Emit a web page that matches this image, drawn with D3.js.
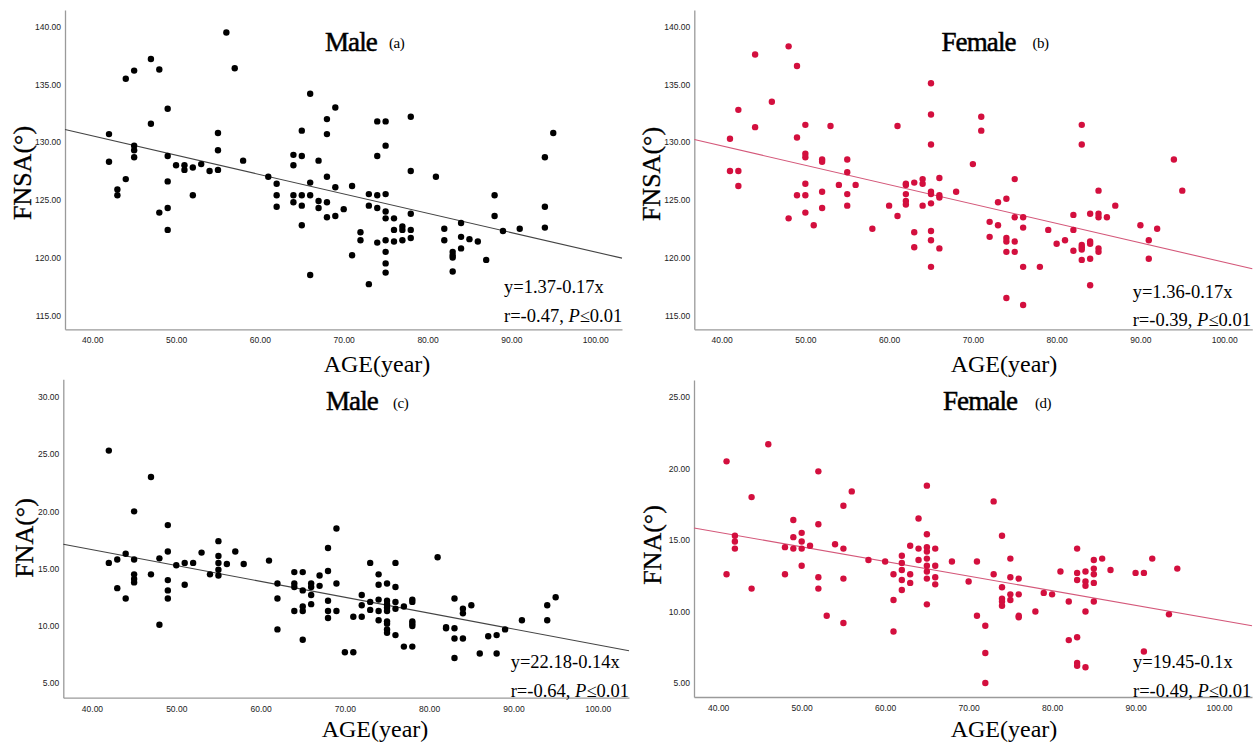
<!DOCTYPE html>
<html><head><meta charset="utf-8">
<script src="https://cdn.jsdelivr.net/npm/d3@7"></script>
<style>body{margin:0;background:#fff}svg{display:block}</style>
</head><body><svg id="chart" width="1260" height="745"></svg>
<script>
// ---- data: [age, value] ----
const maleFNSA = [[42,130.7],[42,128.3],[43,125.9],[43,125.4],[44,135.5],[44,126.8],[45,136.2],[45,129.7],[45,129.3],[45,128.7],[47,137.2],[47,131.6],[48,136.3],[48,123.9],[49,132.9],[49,128.8],[49,126.6],[49,124.3],[49,122.4],[50,128.0],[51,128.0],[51,127.6],[52,127.8],[52,125.4],[53,128.1],[54,127.5],[55,130.8],[55,129.3],[55,127.6],[56,139.5],[57,136.4],[58,128.4],[61,127.0],[62,126.4],[62,125.4],[62,124.4],[64,128.9],[64,128.0],[64,125.4],[64,124.8],[65,131.0],[65,128.8],[65,125.4],[65,124.5],[65,122.8],[66,134.2],[66,126.5],[66,125.4],[66,118.5],[67,128.4],[67,124.9],[67,124.3],[68,132.0],[68,130.7],[68,127.0],[68,124.8],[68,123.5],[69,133.0],[69,126.1],[69,123.6],[70,124.2],[71,126.2],[71,120.2],[72,122.2],[72,121.5],[73,125.5],[73,124.5],[73,117.7],[74,131.8],[74,128.8],[74,125.4],[74,124.3],[74,121.3],[75,131.8],[75,129.7],[75,125.5],[75,124.0],[75,123.4],[75,121.5],[75,120.5],[75,119.5],[75,118.7],[76,123.4],[76,122.4],[76,121.4],[77,122.7],[77,122.4],[77,121.5],[78,132.2],[78,127.5],[78,123.8],[78,122.4],[78,121.7],[81,127.0],[82,122.5],[82,121.5],[83,120.5],[83,120.2],[83,120.0],[83,118.8],[84,123.0],[84,121.8],[84,120.8],[85,121.6],[86,121.4],[87,119.8],[88,125.4],[88,123.6],[89,122.3],[91,122.5],[94,128.7],[94,124.4],[94,122.6],[95,130.8]];

const femaleFNSA = [[41,130.3],[41,127.5],[42,132.8],[42,127.5],[42,126.2],[44,137.6],[44,131.3],[46,133.5],[48,138.3],[48,123.4],[49,136.6],[49,130.4],[49,125.4],[50,131.5],[50,129.0],[50,128.7],[50,126.4],[50,125.4],[50,123.9],[51,122.8],[52,128.5],[52,128.3],[52,125.7],[52,124.3],[53,131.4],[54,126.3],[55,128.5],[55,127.4],[55,125.5],[55,124.5],[56,126.3],[58,122.5],[60,124.5],[61,131.4],[61,123.6],[62,126.4],[62,126.3],[62,125.5],[62,124.9],[62,124.6],[63,126.5],[63,122.2],[63,120.9],[64,126.8],[64,126.4],[64,124.5],[65,135.1],[65,132.4],[65,129.8],[65,125.7],[65,125.5],[65,124.7],[65,122.3],[65,121.5],[65,119.2],[66,126.9],[66,125.4],[66,125.2],[66,120.8],[68,125.7],[70,128.1],[71,132.2],[71,131.0],[72,123.1],[72,121.8],[73,124.8],[73,122.8],[74,125.1],[74,121.7],[74,121.4],[74,120.5],[74,116.5],[75,126.8],[75,123.5],[75,121.4],[75,120.5],[76,123.5],[76,122.6],[76,119.2],[76,115.9],[78,119.2],[79,122.4],[80,121.2],[81,121.5],[82,123.7],[82,122.4],[82,120.6],[83,131.5],[83,129.8],[83,121.1],[83,120.9],[83,120.7],[83,119.8],[84,123.8],[84,121.4],[84,121.2],[84,119.9],[84,117.6],[85,125.8],[85,123.8],[85,123.5],[85,120.8],[85,120.5],[86,123.5],[87,124.5],[90,122.8],[91,121.5],[91,119.9],[92,122.5],[94,128.5],[95,125.8]];

const maleFNA = [[42,25.3],[42,15.5],[43,15.8],[43,13.3],[44,16.3],[44,12.4],[45,20.0],[45,15.8],[45,14.5],[45,14.1],[45,13.8],[47,23.0],[47,14.5],[48,15.9],[48,10.1],[49,18.8],[49,16.5],[49,14.0],[49,13.1],[49,12.4],[50,15.3],[51,15.5],[51,13.6],[52,15.5],[53,16.4],[54,14.5],[55,17.4],[55,16.1],[55,15.5],[55,14.9],[55,14.4],[56,15.4],[57,16.5],[58,15.4],[61,15.7],[62,13.7],[62,12.4],[62,9.7],[64,14.7],[64,13.7],[64,13.4],[64,11.3],[65,14.7],[65,13.1],[65,11.7],[65,11.3],[65,8.8],[66,13.7],[66,13.4],[66,12.7],[66,11.9],[67,14.4],[67,13.5],[68,16.8],[68,14.8],[68,12.2],[68,11.3],[68,10.7],[69,18.5],[69,13.7],[69,11.3],[70,7.7],[71,10.8],[71,7.7],[72,12.7],[72,11.8],[72,10.8],[73,15.5],[73,12.1],[73,11.4],[74,14.5],[74,13.6],[74,12.3],[74,11.3],[74,10.5],[75,13.7],[75,12.2],[75,11.9],[75,11.6],[75,11.3],[75,10.4],[75,10.2],[75,9.7],[75,9.4],[76,15.5],[76,13.4],[76,12.1],[76,11.5],[76,9.2],[77,11.7],[77,8.2],[78,12.3],[78,12.1],[78,10.4],[78,10.2],[78,10.0],[78,8.2],[81,16.0],[82,9.9],[82,9.8],[83,12.4],[83,9.8],[83,8.9],[83,7.2],[84,11.5],[84,11.1],[84,8.9],[85,11.8],[86,7.6],[87,9.1],[88,9.2],[88,7.6],[89,9.7],[91,10.5],[94,11.8],[94,10.5],[95,12.5]];

const femaleFNA = [[41,20.5],[41,12.6],[42,15.3],[42,14.9],[42,14.4],[44,18.0],[44,11.6],[46,21.7],[48,14.5],[48,12.6],[49,16.4],[49,15.2],[49,14.4],[50,15.5],[50,14.9],[50,14.4],[50,13.2],[51,14.6],[52,19.8],[52,16.1],[52,12.4],[52,11.6],[53,9.7],[54,14.7],[55,17.4],[55,14.4],[55,12.3],[55,9.2],[56,18.4],[58,13.6],[60,13.5],[61,12.6],[61,10.8],[61,8.6],[62,13.9],[62,13.4],[62,12.9],[62,12.2],[62,11.5],[63,14.6],[63,12.6],[63,12.0],[64,16.5],[64,14.4],[64,13.6],[65,18.8],[65,15.4],[65,14.5],[65,14.2],[65,13.7],[65,13.2],[65,12.8],[65,12.3],[65,10.5],[66,14.4],[66,13.2],[66,12.4],[66,11.9],[68,13.5],[70,12.1],[71,13.5],[71,9.7],[72,9.0],[72,7.1],[72,5.0],[73,17.7],[73,12.6],[74,15.3],[74,11.7],[74,10.9],[74,10.7],[74,10.4],[75,13.7],[75,12.4],[75,11.2],[75,10.8],[76,12.3],[76,11.2],[76,9.7],[76,9.6],[78,10.0],[79,11.3],[80,11.2],[81,12.8],[82,10.7],[82,8.0],[83,14.4],[83,12.7],[83,12.2],[83,8.2],[83,6.4],[83,6.2],[84,12.8],[84,12.1],[84,11.8],[84,10.0],[84,6.1],[85,13.6],[85,13.0],[85,12.6],[85,12.0],[85,10.7],[86,13.7],[87,12.9],[90,12.7],[91,12.7],[91,7.2],[92,13.7],[94,9.8],[95,13.0]];

// fitted lines [intercept, slope] as drawn
const fitLines = [[137.25,-0.1676],[136.4,-0.168],[22.2,-0.1385],[19.64,-0.1023]];
const xTicks = [40,50,60,70,80,90,100];
const yTicksFNSA = [115,120,125,130,135,140];
const yTicksFNAMale = [5,10,15,20,25,30];
const yTicksFNAFemale = [5,10,15,20,25];
const titles = ["Male","Female","Male","Female"];
const tags = ["(a)","(b)","(c)","(d)"];
const yTitles = ["FNSA(°)","FNSA(°)","FNA(°)","FNA(°)"];
const xTitle = "AGE(year)";
const eqTexts = ["y=1.37-0.17x","y=1.36-0.17x","y=22.18-0.14x","y=19.45-0.1x"];
const rTexts = ["r=-0.47, ","r=-0.39, ","r=-0.64, ","r=-0.49, "];
const pTexts = ["≤0.01","≤0.01","≤0.01","≤0.01"];

// ---- layout ----
const panels = [
  {data:maleFNSA, ticks:yTicksFNSA, fit:fitLines[0], color:"#000", line:"#444",
   x0:65, x1:622, y0:10, y1:329.3, xd:[36.75,103.2], yd:[113.79,141.45],
   tx:325, ty:50.5, gx:389, ylx:22, yly:173, xlx:377, xly:372, ex:504, ey:293, ry:321.7},
  {data:femaleFNSA, ticks:yTicksFNSA, fit:fitLines[1], color:"#d30f3e", line:"#d4587a",
   x0:694.3, x1:1252.3, y0:10, y1:329.3, xd:[36.74,103.36], yd:[113.79,141.45],
   tx:941.5, ty:50.5, gx:1032.5, ylx:651, yly:174, xlx:1004, xly:372, ex:1132.7, ey:298, ry:326},
  {data:maleFNA, ticks:yTicksFNAMale, fit:fitLines[2], color:"#000", line:"#444",
   x0:63.3, x1:629, y0:379.3, y1:697.7, xd:[36.6,103.7], yd:[3.74,31.52],
   tx:326, ty:410, gx:393, ylx:24, yly:538, xlx:375, xly:737, ex:510.7, ey:668, ry:696.7},
  {data:femaleFNA, ticks:yTicksFNAFemale, fit:fitLines[3], color:"#d30f3e", line:"#d4587a",
   x0:694, x1:1252, y0:380, y1:697, xd:[37.1,103.95], yd:[4.02,26.19],
   tx:943, ty:410, gx:1035, ylx:652, yly:545, xlx:1004, xly:737, ex:1133, ey:668, ry:697}
];

const svg = d3.select("#chart");
const serif = "'Liberation Serif','Times New Roman',serif";
const sans = "'Liberation Sans',Arial,sans-serif";

panels.forEach((p,i)=>{
  const g = svg.append("g");
  const x = d3.scaleLinear().domain(p.xd).range([p.x0,p.x1]);
  const y = d3.scaleLinear().domain(p.yd).range([p.y1,p.y0]);

  const yAx = g.append("g").attr("transform",`translate(${p.x0},0)`)
    .call(d3.axisLeft(y).tickValues(p.ticks).tickFormat(d3.format(".2f")).tickSize(0).tickPadding(4));
  const xAx = g.append("g").attr("transform",`translate(0,${p.y1})`)
    .call(d3.axisBottom(x).tickValues(xTicks).tickFormat(d3.format(".2f")).tickSize(0).tickPadding(8));
  [yAx,xAx].forEach(a=>{
    a.select(".domain").attr("stroke","#9a9a9a").attr("stroke-width",1.3);
    a.selectAll("text").attr("font-family",sans).attr("font-size",8.5).attr("fill","#222");
  });

  const fy = v => p.fit[0] + p.fit[1]*v;
  g.append("line")
    .attr("x1",x(p.xd[0])).attr("y1",y(fy(p.xd[0])))
    .attr("x2",x(p.xd[1])).attr("y2",y(fy(p.xd[1])))
    .attr("stroke",p.line).attr("stroke-width",1.1);

  g.selectAll("circle").data(p.data).enter().append("circle")
    .attr("cx",d=>x(d[0])).attr("cy",d=>y(d[1])).attr("r",3.2).attr("fill",p.color);

  g.append("text").attr("x",p.tx).attr("y",p.ty).text(titles[i])
    .attr("font-family",serif).attr("font-size",27).attr("letter-spacing",-0.9)
    .attr("fill","#000").attr("stroke","#000").attr("stroke-width",0.5);
  g.append("text").attr("x",p.gx).attr("y",p.ty-2.5).text(tags[i])
    .attr("font-family",serif).attr("font-size",15).attr("letter-spacing",-0.5).attr("fill","#000");

  g.append("text").attr("transform",`translate(${p.ylx},${p.yly}) rotate(-90)`)
    .attr("text-anchor","middle").attr("dy","0.35em").text(yTitles[i])
    .attr("font-family",serif).attr("font-size",26).attr("fill","#000")
    .attr("stroke","#000").attr("stroke-width",0.3);
  g.append("text").attr("x",p.xlx).attr("y",p.xly).attr("text-anchor","middle").text(xTitle)
    .attr("font-family",serif).attr("font-size",24).attr("fill","#000");

  g.append("text").attr("x",p.ex).attr("y",p.ey).text(eqTexts[i])
    .attr("font-family",serif).attr("font-size",18.5).attr("fill","#000");
  const rt = g.append("text").attr("x",p.ex).attr("y",p.ry)
    .attr("font-family",serif).attr("font-size",18.5).attr("fill","#000");
  rt.append("tspan").text(rTexts[i]);
  rt.append("tspan").attr("font-style","italic").text("P");
  rt.append("tspan").text(pTexts[i]);
});
</script></body></html>
